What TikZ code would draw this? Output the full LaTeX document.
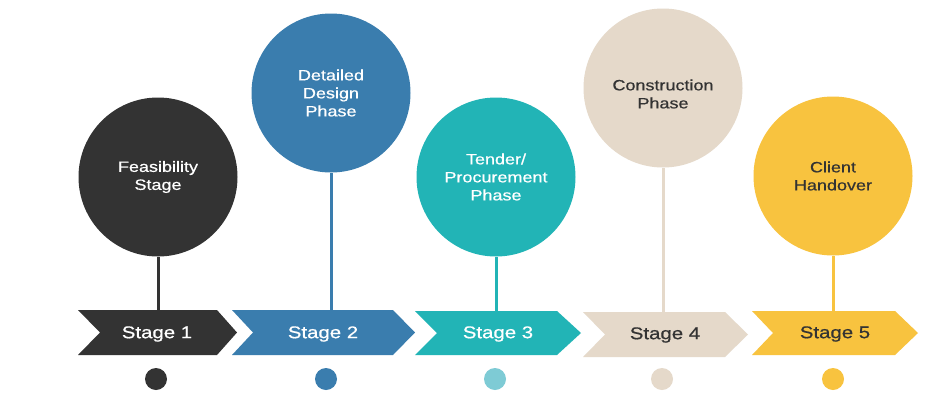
\documentclass[tikz,border=0pt]{standalone}
\usepackage{fontspec}
\setmainfont[FakeStretch=1.2,FakeBold=0.6]{Liberation Sans}
\definecolor{cdark}{HTML}{333333}
\definecolor{cblue}{HTML}{3A7DAE}
\definecolor{cteal}{HTML}{22B4B6}
\definecolor{cbeige}{HTML}{E5D9CA}
\definecolor{cyellow}{HTML}{F8C33F}
\definecolor{clteal}{HTML}{7ECBD5}
\newcommand\mychev[7]{%
  \fill[#1] (#2,#6) -- (#4,#6) -- (#5,{(#6+#7)/2}) -- (#4,#7) -- (#2,#7) -- (#3,{(#6+#7)/2}) -- cycle;}
\begin{document}
\begin{tikzpicture}[x=1pt,y=-1pt,
  bubble/.style={circle,minimum size=159pt,inner sep=0pt,align=center,font=\fontsize{15}{18}\selectfont},
  bubbletext/.style={inner sep=0pt,align=center,font=\fontsize{15}{18}\selectfont},
  stagelabel/.style={inner sep=0pt,font=\fontsize{17}{20}\selectfont},
  stem/.style={line width=3pt},
  dot/.style={circle,minimum size=22pt,inner sep=0pt}]
\useasboundingbox[fill=white] (0,0) rectangle (946,400);

% chevrons
\mychev{cdark}{78}{100}{217}{237}{310}{355}
\mychev{cblue}{232}{253}{393}{415}{310}{355}
\mychev{cteal}{415}{437}{557}{581}{311}{355}
\mychev{cbeige}{583}{605}{725}{748}{312}{357}
\mychev{cyellow}{752}{773}{895}{918}{311}{355}

\coordinate (t1) at (158,312);
\coordinate (t2) at (331,312);
\coordinate (t3) at (496,312);
\coordinate (t4) at (663,313);
\coordinate (t5) at (833,312);

\node[stagelabel,text=white] (s1) at (157,334) {Stage 1};
\node[stagelabel,text=white] (s2) at (323,334) {Stage 2};
\node[stagelabel,text=white] (s3) at (498,334) {Stage 3};
\node[stagelabel,text=cdark] (s4) at (665,335) {Stage 4};
\node[stagelabel,text=cdark] (s5) at (835,334) {Stage 5};

% bubbles
\node[bubble,fill=cdark,text=white] (c1) at (158,177) {Feasibility\\Stage};
\node[bubble,fill=cblue,text=white] (c2) at (331,93) {Detailed\\Design\\Phase};
\node[bubble,fill=cteal,text=white] (c3) at (496,177) {Tender/\\Procurement\\Phase};
\node[bubble,fill=cbeige] (c4) at (663,88) {};
\node[bubbletext,text=cdark] (l4) at (663,94) {Construction\\Phase};
\node[bubble,fill=cyellow,text=cdark] (c5) at (833,176) {Client\\Handover};

% stems
\draw[stem,cdark] (c1.south) -- (c1.south |- t1);
\draw[stem,cblue] (c2.south) -- (c2.south |- t2);
\draw[stem,cteal] (c3.south) -- (c3.south |- t3);
\draw[stem,cbeige] (c4.south) -- (c4.south |- t4);
\draw[stem,cyellow] (c5.south) -- (c5.south |- t5);

% dots
\node[dot,fill=cdark] (d1) at (156,379) {};
\node[dot,fill=cblue] (d2) at (326,379) {};
\node[dot,fill=clteal] (d3) at (495,379) {};
\node[dot,fill=cbeige] (d4) at (662,379) {};
\node[dot,fill=cyellow] (d5) at (833,379) {};
\end{tikzpicture}
\end{document}
